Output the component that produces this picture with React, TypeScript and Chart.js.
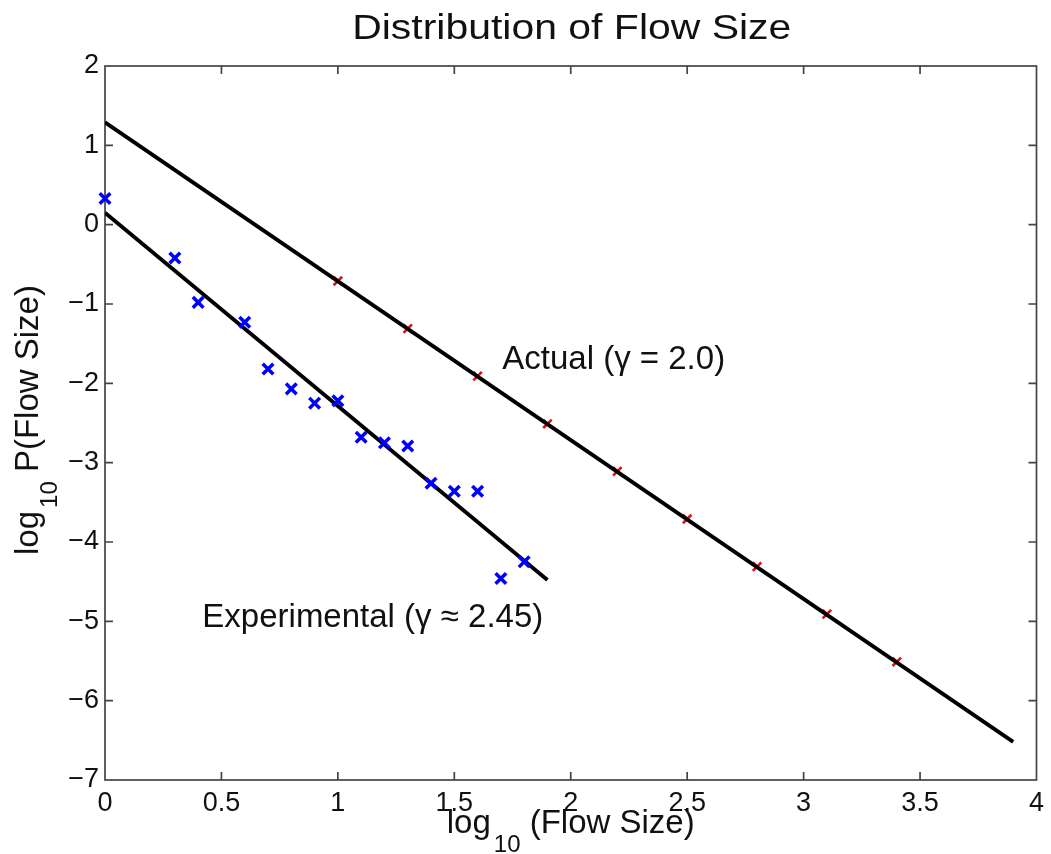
import React, { useEffect, useRef } from "react";
import { Chart, registerables } from "chart.js";

Chart.register(...registerables);

const FONT = "'Liberation Sans', Arial, Helvetica, sans-serif";

const TITLE = "Distribution of Flow Size";
const X_LABEL_PARTS = ["log", "10", " (Flow Size)"];
const Y_LABEL_PARTS = ["log", "10", " P(Flow Size)"];

const X_MIN = 0;
const X_MAX = 4;
const X_STEP = 0.5;
const Y_MIN = -7;
const Y_MAX = 2;
const Y_STEP = 1;

// Experimental measurements (blue x)
const expX = [0, 0.3, 0.4, 0.6, 0.7, 0.8, 0.9, 1.0, 1.1, 1.2, 1.3, 1.4, 1.5, 1.6, 1.7, 1.8];
const expY = [0.33, -0.42, -0.98, -1.23, -1.82, -2.07, -2.25, -2.22, -2.68, -2.75, -2.79, -3.26, -3.36, -3.36, -4.46, -4.25];

// Experimental fit line
const expFitX = [0, 1.9];
const expFitY = [0.15, -4.48];

// Actual distribution points (red marks)
const actX = [1.0, 1.3, 1.6, 1.9, 2.2, 2.5, 2.8, 3.1, 3.4];
const actY = [-0.71, -1.31, -1.91, -2.51, -3.11, -3.71, -4.31, -4.91, -5.51];

// Actual line
const actFitX = [0, 3.9];
const actFitY = [1.29, -6.52];

// Annotations: [text, x, y(baseline)]
const annotTexts = ["Actual (\u03b3 = 2.0)", "Experimental (\u03b3 \u2248 2.45)"];
const annotX = [1.706, 0.418];
const annotY = [-1.82, -5.07];

const toPts = (xs: number[], ys: number[]) => xs.map((x, i) => ({ x, y: ys[i] }));

function drawParts(ctx: CanvasRenderingContext2D, parts: string[], mainSize: number, subSize: number, subDrop: number) {
  let x = 0;
  parts.forEach((p, i) => {
    const isSub = i === 1;
    ctx.font = `${isSub ? subSize : mainSize}px ${FONT}`;
    const y = isSub ? subDrop : 0;
    if (isSub) x += 3;
    ctx.fillText(p, x, y);
    x += ctx.measureText(p).width;
  });
  return x;
}

function measureParts(ctx: CanvasRenderingContext2D, parts: string[], mainSize: number, subSize: number) {
  let w = 0;
  parts.forEach((p, i) => {
    const isSub = i === 1;
    ctx.font = `${isSub ? subSize : mainSize}px ${FONT}`;
    if (isSub) w += 3;
    w += ctx.measureText(p).width;
  });
  return w;
}

const framePlugin = {
  id: "matlabFrame",
  beforeDatasetsDraw(chart: any) {
    const { ctx, chartArea } = chart;
    const { left, right, top, bottom } = chartArea;
    const xs = chart.scales.x;
    const ys = chart.scales.y;
    ctx.save();
    ctx.strokeStyle = "#444";
    ctx.lineWidth = 1.7;
    ctx.strokeRect(left, top, right - left, bottom - top);
    const tl = 8;
    ctx.beginPath();
    xs.ticks.forEach((t: any) => {
      const px = xs.getPixelForValue(t.value);
      if (Math.abs(px - left) < 1 || Math.abs(px - right) < 1) return;
      ctx.moveTo(px, bottom);
      ctx.lineTo(px, bottom - tl);
      ctx.moveTo(px, top);
      ctx.lineTo(px, top + tl);
    });
    ys.ticks.forEach((t: any) => {
      const py = ys.getPixelForValue(t.value);
      if (Math.abs(py - top) < 1 || Math.abs(py - bottom) < 1) return;
      ctx.moveTo(left, py);
      ctx.lineTo(left + tl, py);
      ctx.moveTo(right, py);
      ctx.lineTo(right - tl, py);
    });
    ctx.stroke();
    ctx.restore();
  },
  afterDraw(chart: any) {
    const { ctx, chartArea } = chart;
    const xs = chart.scales.x;
    const ys = chart.scales.y;
    ctx.save();
    ctx.fillStyle = "#111";
    ctx.textBaseline = "alphabetic";

    // Title
    ctx.font = `35px ${FONT}`;
    ctx.textAlign = "center";
    const cx = (chartArea.left + chartArea.right) / 2;
    ctx.save();
    ctx.translate(cx + 1, 39);
    ctx.scale(1.17, 1);
    ctx.fillText(TITLE, 0, 0);
    ctx.restore();

    ctx.textAlign = "left";
    // X axis label
    const wX = measureParts(ctx, X_LABEL_PARTS, 33, 24);
    ctx.save();
    ctx.translate(cx - wX / 2, 833);
    drawParts(ctx, X_LABEL_PARTS, 33, 24, 19);
    ctx.restore();

    // Y axis label
    const wY = measureParts(ctx, Y_LABEL_PARTS, 33, 24);
    const cy = (chartArea.top + chartArea.bottom) / 2;
    ctx.save();
    ctx.translate(38, cy + wY / 2 - 3);
    ctx.rotate(-Math.PI / 2);
    drawParts(ctx, Y_LABEL_PARTS, 33, 24, 19);
    ctx.restore();

    // Annotations
    ctx.font = `33px ${FONT}`;
    annotTexts.forEach((t, i) => {
      ctx.fillText(t, xs.getPixelForValue(annotX[i]), ys.getPixelForValue(annotY[i]));
    });
    ctx.restore();
  },
};

export default function App() {
  const ref = useRef<HTMLCanvasElement | null>(null);

  useEffect(() => {
    document.body.style.margin = "0";
    const canvas = ref.current;
    if (!canvas) return;
    const chart = new Chart(canvas, {
      type: "scatter",
      data: {
        datasets: [
          {
            label: "Experimental data",
            data: toPts(expX, expY),
            pointStyle: "crossRot",
            pointRadius: 7.5,
            pointBorderWidth: 3.5,
            borderColor: "#0000ff",
            backgroundColor: "#0000ff",
            showLine: false,
            clip: false,
          } as any,
          {
            label: "Actual line",
            data: toPts(actFitX, actFitY),
            showLine: true,
            borderColor: "#000",
            borderWidth: 3.8,
            pointRadius: 0,
            fill: false,
          },
          {
            label: "Experimental fit",
            data: toPts(expFitX, expFitY),
            showLine: true,
            borderColor: "#000",
            borderWidth: 3.8,
            pointRadius: 0,
            fill: false,
          },
          {
            label: "Actual",
            data: toPts(actX, actY),
            pointStyle: "crossRot",
            pointRadius: 6,
            pointBorderWidth: 2.6,
            borderColor: "#e01010",
            backgroundColor: "#e01010",
            showLine: false,
          },
        ],
      },
      options: {
        responsive: false,
        animation: false,
        events: [],
        layout: { padding: { top: 66, right: 8, left: 0, bottom: 0 } },
        plugins: {
          legend: { display: false },
          title: { display: false },
          tooltip: { enabled: false },
        },
        scales: {
          x: {
            type: "linear",
            min: X_MIN,
            max: X_MAX,
            grid: { display: false, drawTicks: false },
            border: { display: false },
            afterFit: (s: any) => {
              s.height = 74;
            },
            ticks: {
              stepSize: X_STEP,
              padding: 7,
              color: "#111",
              font: { family: FONT, size: 27 },
              maxRotation: 0,
              autoSkip: false,
              callback: (v: any) => String(v),
            },
          },
          y: {
            type: "linear",
            min: Y_MIN,
            max: Y_MAX,
            grid: { display: false, drawTicks: false },
            border: { display: false },
            afterFit: (s: any) => {
              s.width = 105;
            },
            ticks: {
              stepSize: Y_STEP,
              padding: 6,
              color: "#111",
              font: { family: FONT, size: 27 },
              autoSkip: false,
              callback: (v: any) => (v < 0 ? "\u2212" + Math.abs(v) : String(v)),
            },
          },
        },
      },
      plugins: [framePlugin],
    });
    return () => chart.destroy();
  }, []);

  return (
    <div style={{ position: "absolute", left: 0, top: 0, width: 1051, height: 854, background: "#fff" }}>
      <canvas ref={ref} width={1051} height={854} style={{ display: "block" }} />
    </div>
  );
}
